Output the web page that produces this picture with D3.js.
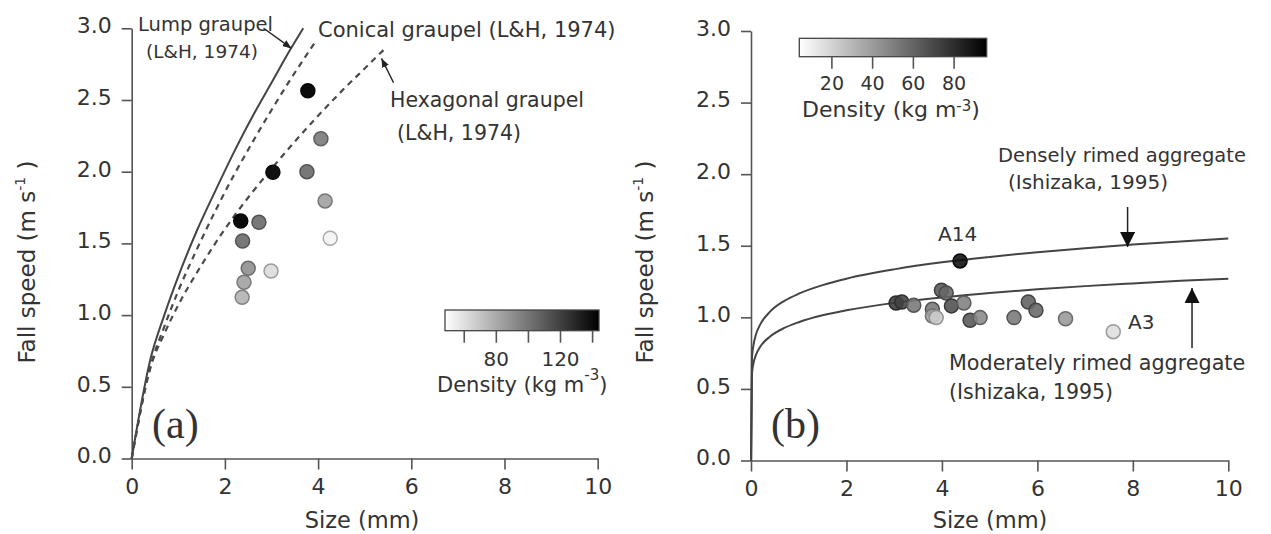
<!DOCTYPE html>
<html><head><meta charset="utf-8">
<script src="https://cdn.jsdelivr.net/npm/d3@7"></script>
<style>
body{margin:0;background:#fff}
text{font-family:"DejaVu Sans",sans-serif;fill:#333}
</style>
</head><body>
<svg id="c" width="1271" height="534"></svg>
<script>
// ---------- data ----------
const sizeTicks = [0, 2, 4, 6, 8, 10];
const speedTicks = [0, 0.5, 1.0, 1.5, 2.0, 2.5, 3.0];

// panel (a) graupel observations
const aSize    = [3.78, 4.06, 3.03, 3.76, 4.15, 4.26, 2.34, 2.73, 2.38, 2.50, 2.99, 2.41, 2.37];
const aSpeed   = [2.565, 2.23, 1.996, 2.00, 1.796, 1.536, 1.656, 1.647, 1.517, 1.326, 1.307, 1.229, 1.124];
const aDensity = [140, 93, 138, 99, 80, 52, 140, 99, 99, 86, 60, 80, 74];

// panel (a) L&H 1974 curves
const lumpSize  = [0, 0.4, 0.7, 1.0, 1.4, 1.8, 2.2, 2.6, 3.0, 3.4, 3.68];
const lumpSpeed = [0, 0.69, 1.00, 1.27, 1.59, 1.87, 2.14, 2.39, 2.62, 2.85, 3.00];
const conSize   = [0, 0.4, 0.7, 1.0, 1.4, 1.8, 2.2, 2.6, 3.0, 3.4, 3.93];
const conSpeed  = [0, 0.64, 0.92, 1.17, 1.46, 1.73, 1.98, 2.21, 2.43, 2.64, 2.90];
const hexSize   = [0, 0.4, 0.7, 1.0, 1.5, 2.0, 2.5, 3.0, 3.5, 4.0, 4.5, 5.0, 5.41];
const hexSpeed  = [0, 0.63, 0.87, 1.07, 1.35, 1.60, 1.82, 2.02, 2.21, 2.39, 2.56, 2.72, 2.85];

// panel (a) colorbar
const aDensityRange = [48, 144];
const aBarTicks = [60, 80, 100, 120, 140];
const aBarLabels = [80, 120];

// panel (b) aggregate observations
const bSize    = [3.04, 3.16, 3.41, 3.80, 3.80, 3.88, 3.99, 4.09, 4.20, 4.46, 4.59, 4.80, 5.51, 5.81, 5.97, 6.59, 7.59, 4.38];
const bSpeed   = [1.10, 1.107, 1.085, 1.056, 1.01, 0.998, 1.189, 1.17, 1.08, 1.10, 0.979, 0.998, 0.998, 1.107, 1.049, 0.99, 0.90, 1.394];
const bDensity = [75, 72, 53, 53, 38, 22, 65, 59, 68, 50, 65, 47, 53, 62, 59, 41, 16, 92];
const bNames   = ["", "", "", "", "", "", "", "", "", "", "", "", "", "", "", "", "A3", "A14"];

// panel (b) Ishizaka 1995 curves
const ishSize     = [0, 0.02, 0.05, 0.1, 0.2, 0.4, 0.7, 1, 1.5, 2, 3, 4, 5, 6, 7, 8, 9, 10];
const denseSpeed  = [0, 0.717, 0.803, 0.876, 0.954, 1.040, 1.115, 1.165, 1.225, 1.270, 1.335, 1.384, 1.422, 1.455, 1.483, 1.508, 1.530, 1.550];
const modSpeed    = [0, 0.607, 0.676, 0.734, 0.798, 0.866, 0.926, 0.966, 1.014, 1.049, 1.101, 1.139, 1.170, 1.196, 1.218, 1.237, 1.255, 1.270];

// panel (b) colorbar
const bDensityRange = [4, 96];
const bBarTicks = [20, 40, 60, 80];

// ---------- drawing ----------
const svg = d3.select("#c");
const defs = svg.append("defs");
const AX = "#555", TXT = "#333";

function grad(id) {
  const g = defs.append("linearGradient").attr("id", id).attr("x1", "0%").attr("x2", "100%");
  g.append("stop").attr("offset", "0%").attr("stop-color", "#ffffff");
  g.append("stop").attr("offset", "100%").attr("stop-color", "#000000");
}
grad("gA"); grad("gB");

defs.append("marker").attr("id", "ah").attr("viewBox", "0 0 10 10").attr("refX", 10).attr("refY", 5)
  .attr("markerWidth", 9).attr("markerHeight", 9).attr("orient", "auto").attr("markerUnits", "userSpaceOnUse")
  .append("path").attr("d", "M0,1 L10,5 L0,9 Z").attr("fill", "#222");
defs.append("marker").attr("id", "ahb").attr("viewBox", "0 0 10 10").attr("refX", 10).attr("refY", 5)
  .attr("markerWidth", 15).attr("markerHeight", 15).attr("orient", "auto").attr("markerUnits", "userSpaceOnUse")
  .append("path").attr("d", "M0,0 L10,5 L0,10 Z").attr("fill", "#111");

function axes(x, y, titleX, titleYx, titleYy) {
  const gx = svg.append("g").attr("transform", `translate(0,${y(0)})`)
    .call(d3.axisBottom(x).tickValues(sizeTicks).tickFormat(d3.format("d")).tickSize(11).tickSizeOuter(0).tickPadding(9));
  const gy = svg.append("g").attr("transform", `translate(${x(0)},0)`)
    .call(d3.axisLeft(y).tickValues(speedTicks).tickFormat(d3.format(".1f")).tickSize(10).tickSizeOuter(0).tickPadding(10));
  [gx, gy].forEach(g => {
    g.attr("font-family", null).attr("font-size", null);
    g.select(".domain").attr("stroke", AX).attr("stroke-width", 1.6);
    g.selectAll(".tick line").attr("stroke", AX).attr("stroke-width", 1.6);
    g.selectAll(".tick text").attr("fill", TXT).style("font-size", "22px");
  });
  gy.selectAll(".tick text").attr("dy", "0.2em");
  svg.append("text").attr("x", titleX).attr("y", 528).attr("text-anchor", "middle")
    .style("font-size", "22.5px").text("Size (mm)");
  const t = svg.append("text").attr("transform", `translate(${titleYx},${titleYy}) rotate(-90)`)
    .attr("text-anchor", "middle").style("font-size", "23px");
  t.append("tspan").text("Fall speed (m s");
  t.append("tspan").attr("dy", -10).style("font-size", "14px").text("-1");
  t.append("tspan").attr("dy", 10).text(" )");
}

function curve(x, y, xs, ys, dash) {
  const pts = xs.map((d, i) => [d, ys[i]]);
  svg.append("path").datum(pts)
    .attr("d", d3.line().x(d => x(d[0])).y(d => y(d[1])).curve(d3.curveMonotoneX))
    .attr("fill", "none").attr("stroke", dash ? "#4a4a4a" : "#444")
    .attr("stroke-width", dash ? 2.2 : 2)
    .attr("stroke-dasharray", dash ? "6,5" : null);
}

function points(x, y, xs, ys, dens, gray, op) {
  const pts = xs.map((d, i) => ({s: d, v: ys[i], d: dens[i]}));
  svg.append("g").selectAll("circle").data(pts).join("circle")
    .attr("cx", d => x(d.s)).attr("cy", d => y(d.v)).attr("r", 7)
    .attr("fill", d => gray(d.d)).attr("fill-opacity", op)
    .attr("stroke", d => d3.interpolateRgb(gray(d.d), "#000")(0.3))
    .attr("stroke-width", 1.5);
}

function colorbar(c, rng, ticks, labels, top, h, tickLen, lblY, lblSize, titleX, titleY, titleSize, supDy, id) {
  svg.append("rect").attr("x", c(rng[0])).attr("y", top).attr("width", c(rng[1]) - c(rng[0])).attr("height", h)
    .attr("fill", `url(#${id})`).attr("stroke", "#444").attr("stroke-width", 1.3);
  svg.append("g").selectAll("line").data(ticks).join("line")
    .attr("x1", d => c(d)).attr("x2", d => c(d)).attr("y1", top + h).attr("y2", top + h + tickLen)
    .attr("stroke", AX).attr("stroke-width", 1.6);
  svg.append("g").selectAll("text").data(labels).join("text")
    .attr("x", d => c(d)).attr("y", lblY).attr("text-anchor", "middle").style("font-size", lblSize + "px").text(d => d);
  const t = svg.append("text").attr("x", titleX).attr("y", titleY).style("font-size", titleSize + "px");
  t.append("tspan").text("Density (kg m");
  t.append("tspan").attr("dy", -supDy).style("font-size", "15px").text("-3");
  t.append("tspan").attr("dy", supDy).text(")");
}

// ----- panel (a) -----
const xA = d3.scaleLinear().domain([0, 10]).range([131.7, 597.7]);
const yA = d3.scaleLinear().domain([0, 3]).range([458.5, 28.3]);
axes(xA, yA, 362, 35, 262);
curve(xA, yA, lumpSize, lumpSpeed, false);
curve(xA, yA, conSize, conSpeed, true);
curve(xA, yA, hexSize, hexSpeed, true);
const grayA = d3.scaleLinear().domain(aDensityRange).range(["#ffffff", "#000000"]);
points(xA, yA, aSize, aSpeed, aDensity, grayA, 1);

svg.append("text").attr("x", 138).attr("y", 31).style("font-size", "19.5px").text("Lump graupel");
svg.append("text").attr("x", 146).attr("y", 58).style("font-size", "18.5px").text("(L&H, 1974)");
svg.append("line").attr("x1", xA(2.83)).attr("y1", yA(3.0)).attr("x2", xA(3.43)).attr("y2", yA(2.86))
  .attr("stroke", "#222").attr("stroke-width", 1.4).attr("marker-end", "url(#ah)");
svg.append("text").attr("x", 318).attr("y", 37).style("font-size", "21px").text("Conical graupel (L&H, 1974)");
svg.append("text").attr("x", 390).attr("y", 107).style("font-size", "20.5px").text("Hexagonal graupel");
svg.append("text").attr("x", 397).attr("y", 140).style("font-size", "20.5px").text("(L&H, 1974)");
svg.append("line").attr("x1", xA(5.62)).attr("y1", yA(2.62)).attr("x2", xA(5.36)).attr("y2", yA(2.79))
  .attr("stroke", "#222").attr("stroke-width", 1.4).attr("marker-end", "url(#ah)");
svg.append("text").attr("x", 152).attr("y", 438).style("font-family", "'Liberation Serif',serif")
  .style("font-size", "42px").attr("fill", "#111").text("(a)");

const cA = d3.scaleLinear().domain(aDensityRange).range([445, 599]);
colorbar(cA, aDensityRange, aBarTicks, aBarLabels, 310, 20.7, 12, 366, 20, 437, 392, 21, 12, "gA");

// ----- panel (b) -----
const xB = d3.scaleLinear().domain([0, 10]).range([751, 1228.3]);
const yB = d3.scaleLinear().domain([0, 3]).range([460.5, 31]);
axes(xB, yB, 990, 653, 262);
curve(xB, yB, ishSize, denseSpeed, false);
curve(xB, yB, ishSize, modSpeed, false);
const grayB = d3.scaleLinear().domain(bDensityRange).range(["#ffffff", "#000000"]);
points(xB, yB, bSize, bSpeed, bDensity, grayB, 0.88);

svg.append("text").attr("x", 938).attr("y", 241).style("font-size", "20px").text(bNames[17]);
svg.append("text").attr("x", 1128).attr("y", 329).style("font-size", "20px").text(bNames[16]);

svg.append("text").attr("x", 998).attr("y", 162).style("font-size", "19.5px").text("Densely rimed aggregate");
svg.append("text").attr("x", 1008).attr("y", 189).style("font-size", "20px").text("(Ishizaka, 1995)");
svg.append("line").attr("x1", xB(7.89)).attr("y1", 207).attr("x2", xB(7.89)).attr("y2", 247)
  .attr("stroke", "#222").attr("stroke-width", 1.5).attr("marker-end", "url(#ahb)");
svg.append("text").attr("x", 949).attr("y", 370).style("font-size", "20.7px").text("Moderately rimed aggregate");
svg.append("text").attr("x", 949).attr("y", 399).style("font-size", "20.5px").text("(Ishizaka, 1995)");
svg.append("line").attr("x1", xB(9.24)).attr("y1", 348).attr("x2", xB(9.24)).attr("y2", 288)
  .attr("stroke", "#222").attr("stroke-width", 1.5).attr("marker-end", "url(#ahb)");
svg.append("text").attr("x", 771).attr("y", 438).style("font-family", "'Liberation Serif',serif")
  .style("font-size", "42px").attr("fill", "#111").text("(b)");

const cB = d3.scaleLinear().domain(bDensityRange).range([799.3, 986.7]);
colorbar(cB, bDensityRange, bBarTicks, bBarTicks, 38.3, 18.4, 12, 90, 19, 802, 117, 22, 6, "gB");
</script>
</body></html>
